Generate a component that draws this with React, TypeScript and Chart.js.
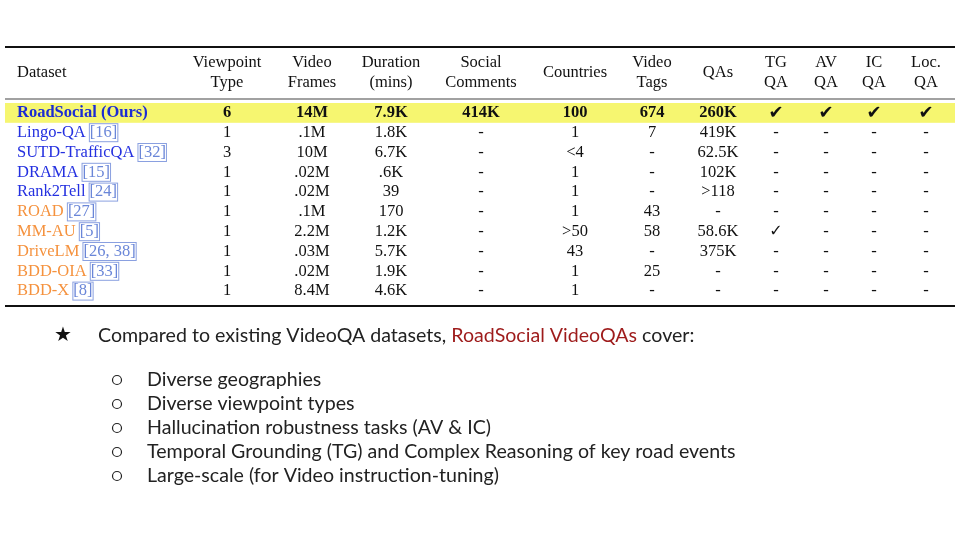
import { useEffect, useRef } from 'react';
import Chart from 'chart.js/auto';

const rows = ['RoadSocial (Ours)', 'Lingo-QA', 'SUTD-TrafficQA', 'DRAMA', 'Rank2Tell', 'ROAD', 'MM-AU', 'DriveLM', 'BDD-OIA', 'BDD-X'];
const cites = ['', '[16]', '[32]', '[15]', '[24]', '[27]', '[5]', '[26, 38]', '[33]', '[8]'];
const rowColors = ['#1b2bd4', '#2430e0', '#2430e0', '#2430e0', '#2430e0', '#f5923e', '#f5923e', '#f5923e', '#f5923e', '#f5923e'];
const headers = [['Viewpoint', 'Type'], ['Video', 'Frames'], ['Duration', '(mins)'], ['Social', 'Comments'], ['Countries'], ['Video', 'Tags'], ['QAs'], ['TG', 'QA'], ['AV', 'QA'], ['IC', 'QA'], ['Loc.', 'QA']];
const viewpoint = ['6', '1', '3', '1', '1', '1', '1', '1', '1', '1'];
const frames = ['14M', '.1M', '10M', '.02M', '.02M', '.1M', '2.2M', '.03M', '.02M', '8.4M'];
const duration = ['7.9K', '1.8K', '6.7K', '.6K', '39', '170', '1.2K', '5.7K', '1.9K', '4.6K'];
const comments = ['414K', '-', '-', '-', '-', '-', '-', '-', '-', '-'];
const countries = ['100', '1', '<4', '1', '1', '1', '>50', '43', '1', '1'];
const tags = ['674', '7', '-', '-', '-', '43', '58', '-', '25', '-'];
const qas = ['260K', '419K', '62.5K', '102K', '>118', '-', '58.6K', '375K', '-', '-'];
const tgQa = ['✔', '-', '-', '-', '-', '-', '✓', '-', '-', '-'];
const avQa = ['✔', '-', '-', '-', '-', '-', '-', '-', '-', '-'];
const icQa = ['✔', '-', '-', '-', '-', '-', '-', '-', '-', '-'];
const locQa = ['✔', '-', '-', '-', '-', '-', '-', '-', '-', '-'];
const columns = [viewpoint, frames, duration, comments, countries, tags, qas, tgQa, avQa, icQa, locQa];
const colCenters = [227, 312, 391, 481, 575, 652, 718, 776, 826, 874, 926];
const bulletTitle = ['Compared to existing VideoQA datasets, ', 'RoadSocial VideoQAs', ' cover:'];
const bullets = ['Diverse geographies', 'Diverse viewpoint types', 'Hallucination robustness tasks (AV & IC)', 'Temporal Grounding (TG) and Complex Reasoning of key road events', 'Large-scale (for Video instruction-tuning)'];

const SERIF = '"Liberation Serif", "Times New Roman", serif';
const SANS = 'Lato, "Open Sans", sans-serif';

export default function App() {
  const canvasRef = useRef<HTMLCanvasElement>(null);
  const chartRef = useRef<Chart | null>(null);

  useEffect(() => {
    if (!canvasRef.current) return;
    if (chartRef.current) chartRef.current.destroy();

    const tablePlugin = {
      id: 'table',
      beforeDatasetsDraw(chart: any) {
        const ctx = chart.ctx;
        const y = chart.scales.y;
        const band = y.getPixelForValue(1) - y.getPixelForValue(0);
        const top = y.getPixelForValue(0);
        ctx.save();
        ctx.fillStyle = '#f6f670';
        ctx.fillRect(5, top - band / 2, 950, band);
        ctx.restore();
      },
      afterDatasetsDraw(chart: any) {
        const ctx = chart.ctx;
        const y = chart.scales.y;
        const band = y.getPixelForValue(1) - y.getPixelForValue(0);
        const first = y.getPixelForValue(0) - band / 2;
        const last = y.getPixelForValue(rows.length - 1) + band / 2;
        ctx.save();
        ctx.strokeStyle = '#111';
        ctx.lineWidth = 2;
        ctx.beginPath(); ctx.moveTo(5, 47); ctx.lineTo(955, 47); ctx.stroke();
        ctx.lineWidth = 1.2;
        ctx.strokeStyle = '#444';
        ctx.beginPath(); ctx.moveTo(5, first - 4); ctx.lineTo(955, first - 4); ctx.stroke();
        ctx.strokeStyle = '#111';
        ctx.lineWidth = 2;
        ctx.beginPath(); ctx.moveTo(5, last + 5); ctx.lineTo(955, last + 5); ctx.stroke();
        // header
        ctx.fillStyle = '#111';
        ctx.font = `16.5px ${SERIF}`;
        ctx.textBaseline = 'middle';
        ctx.textAlign = 'left';
        ctx.fillText('Dataset', 17, 73);
        ctx.textAlign = 'center';
        headers.forEach((h, i) => {
          if (h.length === 1) ctx.fillText(h[0], colCenters[i], 73);
          else { ctx.fillText(h[0], colCenters[i], 63); ctx.fillText(h[1], colCenters[i], 83); }
        });
        // cells
        chart.data.datasets.forEach((ds: any, di: number) => {
          const meta = chart.getDatasetMeta(di);
          meta.data.forEach((pt: any, ri: number) => {
            const txt = ds.labels[ri];
            const check = txt === '✔' || txt === '✓';
            ctx.font = check ? `${ri === 0 ? '18px' : '16px'} "DejaVu Sans"` : `${ri === 0 ? 'bold ' : ''}16.5px ${SERIF}`;
            ctx.fillStyle = '#111';
            ctx.textAlign = 'center';
            ctx.fillText(txt, pt.x, pt.y);
          });
        });
        // dataset names
        rows.forEach((r, ri) => {
          const py = y.getPixelForValue(ri);
          ctx.textAlign = 'left';
          ctx.font = `${ri === 0 ? 'bold ' : ''}16.5px ${SERIF}`;
          ctx.fillStyle = rowColors[ri];
          ctx.fillText(r, 17, py);
          if (cites[ri]) {
            const x0 = 17 + ctx.measureText(r + ' ').width;
            ctx.font = `16.5px ${SERIF}`;
            ctx.fillStyle = '#6a86d8';
            ctx.fillText(cites[ri], x0, py);
            const w = ctx.measureText(cites[ri]).width;
            ctx.strokeStyle = '#8aa0e0';
            ctx.lineWidth = 1;
            ctx.strokeRect(x0 - 0.5, py - 9, w + 1, 18);
          }
        });
        // bullets
        ctx.textAlign = 'left';
        ctx.fillStyle = '#111';
        ctx.font = '20px "DejaVu Sans"';
        ctx.fillText('★', 54, 336);
        ctx.font = `19.6px ${SANS}`;
        let bx = 98;
        bulletTitle.forEach((t, i) => {
          ctx.fillStyle = i === 1 ? '#9e1b1b' : '#222';
          ctx.fillText(t, bx, 336);
          bx += ctx.measureText(t).width;
        });
        bullets.forEach((b, i) => {
          const by = 380 + i * 24;
          ctx.fillStyle = '#222';
          ctx.strokeStyle = '#222';
          ctx.lineWidth = 1.2;
          ctx.beginPath(); ctx.arc(117, by, 4.5, 0, Math.PI * 2); ctx.stroke();
          ctx.fillText(b, 147, by);
        });
        ctx.restore();
      },
    };

    chartRef.current = new Chart(canvasRef.current, {
      type: 'scatter',
      data: {
        datasets: columns.map((col, ci) => ({
          labels: col,
          data: col.map((_, ri) => ({ x: colCenters[ci], y: rows[ri] })),
          pointRadius: 0,
        })) as any,
      },
      options: {
        animation: false,
        responsive: false,
        events: [],
        layout: { padding: { top: 103, bottom: 239, left: 0, right: 0 } },
        plugins: { legend: { display: false }, tooltip: { enabled: false } },
        scales: {
          x: { type: 'linear', min: 0, max: 960, display: false },
          y: { type: 'category', labels: rows, offset: true, display: false },
        },
      },
      plugins: [tablePlugin],
    });

    return () => {
      if (chartRef.current) chartRef.current.destroy();
    };
  }, []);

  return (
    <div style={{ position: 'fixed', left: 0, top: 0, width: 960, height: 540, background: '#fff' }}>
      <canvas ref={canvasRef} width={960} height={540} style={{ width: 960, height: 540 }} />
    </div>
  );
}
